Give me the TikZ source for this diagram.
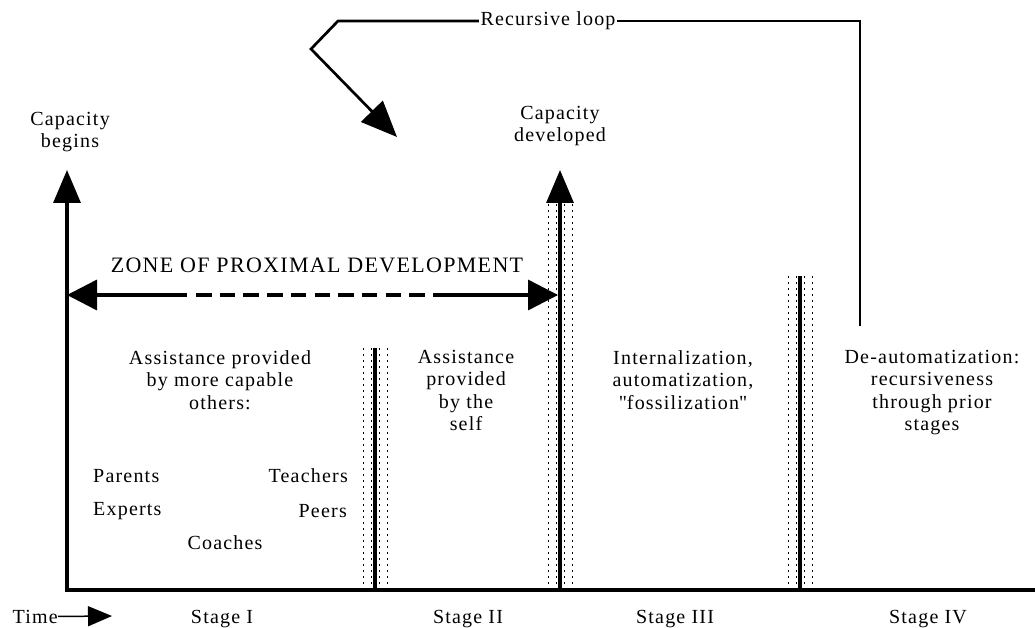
\documentclass[tikz,border=0pt]{standalone}
\usepackage{fontspec}
\setmainfont[LetterSpace=6]{Liberation Serif}
\newfontfamily\plainq[LetterSpace=6]{Liberation Serif}
\usetikzlibrary{arrows.meta}

\tikzset{
  lbl/.style={font=\fontsize{20}{22.5}\selectfont, align=center, inner sep=0pt},
  axis/.style={line width=3.4pt},
  bigtip/.style={-{Triangle[length=33pt,width=27pt]}},
  zpdtip/.style={-{Triangle[length=30pt,width=30pt]}},
  stagedots/.style={line width=1.7pt, dash pattern=on 1.7pt off 4.3pt},
}

\begin{document}
\begin{tikzpicture}[x=1pt,y=-1pt]
\useasboundingbox (0,0) rectangle (1035,628);

% axes and the three stage bars
\coordinate (origin) at (67,590);
\coordinate (xend) at (1035,590);
\coordinate (begtip) at (67,170);
\coordinate (devbase) at (560,590);
\coordinate (devtip) at (560,170);
\coordinate (barAbase) at (375,590);
\coordinate (barAtop) at (375,348);
\coordinate (barCbase) at (800,590);
\coordinate (barCtop) at (800,276);
\foreach \dx in {-11.5,-3.5,4.5,12.5} {
  \draw[stagedots] (375+\dx,590) -- (375+\dx,348);
  \draw[stagedots] (560+\dx,590) -- (560+\dx,203);
  \draw[stagedots] (800+\dx,590) -- (800+\dx,276);
}
\draw[axis,bigtip] (xend) -- (origin) -- (begtip);
\draw[axis,bigtip] (devbase) -- (devtip);
\draw[axis] (barAbase) -- (barAtop);
\draw[axis] (barCbase) -- (barCtop);

\node[lbl,anchor=north] (begins) at (70,112) {Capacity\\begins};
\node[lbl,anchor=north] (developed) at (560,106) {Capacity\\developed};

% zone of proximal development
\node[lbl,font=\fontsize{22}{24}\selectfont,anchor=north] (zpd) at (317,258) {ZONE OF PROXIMAL DEVELOPMENT};
\coordinate (zpdL) at (67,295);
\coordinate (zpdLend) at (187,295);
\coordinate (zpddashA) at (196,295);
\coordinate (zpddashB) at (425,295);
\coordinate (zpdRstart) at (433,295);
\coordinate (zpdR) at (558,295);
\draw[line width=3.5pt,zpdtip] (zpdLend) -- (zpdL);
\draw[line width=3.5pt,dash pattern=on 15.5pt off 8.2pt] (zpddashA) -- (zpddashB);
\draw[line width=3.5pt,zpdtip] (zpdRstart) -- (zpdR);

% recursive loop
\node[lbl,inner sep=1.5pt] (loop) at (548,21) {Recursive loop};
\coordinate (loopfoot) at (860,326);
\coordinate (loopcorner) at (338,21);
\coordinate (loopbend) at (311,49);
\coordinate (looptip) at (397,137);
\draw[line width=2.7pt] (loopfoot) |- (loop.east);
\draw[line width=2.7pt,-{Triangle[length=36pt,width=30pt]}] (loop.west) -- (loopcorner) -- (loopbend) -- (looptip);

% stage texts
\node[lbl,anchor=north] (helpothers) at (220,350) {Assistance provided\\by more capable\\others:};
\node[lbl,anchor=north] (helpself) at (466,350) {Assistance\\provided\\by the\\self};
\node[lbl,anchor=north] (internal) at (683,350) {Internalization,\\automatization,\\{\plainq"}fossilization{\plainq"}};
\node[lbl,anchor=north] (deauto) at (932,350) {De-automatization:\\recursiveness\\through prior\\stages};

\node[lbl,anchor=west] (parents) at (93,476) {Parents};
\node[lbl,anchor=east] (teachers) at (348,476) {Teachers};
\node[lbl,anchor=west] (experts) at (93,511) {Experts};
\node[lbl,anchor=east] (peers) at (347,511) {Peers};
\node[lbl] (coaches) at (225,543) {Coaches};

% time line
\node[lbl,anchor=base east] (time) at (58,623) {Time};
\coordinate (timetip) at (112,616);
\draw[line width=1.5pt,-{Triangle[length=24pt,width=20pt]}] (time.east) -- (timetip);
\node[lbl,anchor=base] (stageI) at (222,623) {Stage I};
\node[lbl,anchor=base] (stageII) at (468,623) {Stage II};
\node[lbl,anchor=base] (stageIII) at (675,623) {Stage III};
\node[lbl,anchor=base] (stageIV) at (928,623) {Stage IV};
\end{tikzpicture}
\end{document}
